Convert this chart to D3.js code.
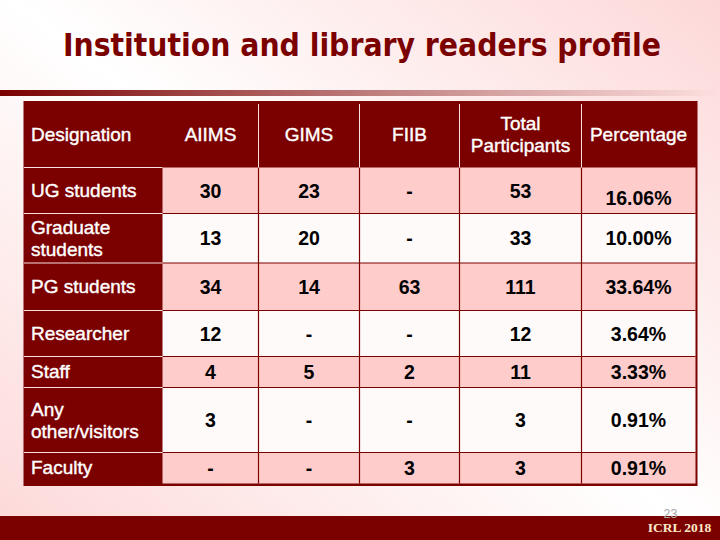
<!DOCTYPE html>
<html>
<head>
<meta charset="utf-8">
<script src="https://cdn.jsdelivr.net/npm/d3@7"></script>
<style>
html, body { margin: 0; padding: 0; background: #fff; }
svg { display: block; }
text { font-family: "Liberation Sans", Arial, sans-serif; }
.soft { font-size: 19px; stroke: #fff; stroke-width: 0.4px; }
</style>
</head>
<body>
<div id="chart"></div>
<script>
let titleText = "Institution and library readers profile";
let columns = ["AIIMS", "GIMS", "FIIB", "Total Participants", "Percentage"];
let designations = ["UG students", "Graduate students", "PG students", "Researcher", "Staff", "Any other/visitors", "Faculty"];
let aiims = [30, 13, 34, 12, 4, 3, null];
let gims = [23, 20, 14, null, 5, null, null];
let fiib = [null, null, 63, null, 2, null, 3];
let totals = [53, 33, 111, 12, 11, 3, 3];
let percents = [16.06, 10.00, 33.64, 3.64, 3.33, 0.91, 0.91];

let w = 720, h = 540;
let dark = "#7b0000";
let pink = "#ffcccc";

// table grid
let colEdges = [162.5, 258.5, 359.5, 459.5, 581.5, 695.5];
let rowEdges = [167.5, 213.5, 263, 310.5, 356.5, 387.5, 452.5, 483.5];
let tableLeft = 23.5, tableTop = 101, tableRight = 697.5, tableBottom = 486;

let svg = d3.select("#chart").append("svg")
    .attr("width", w)
    .attr("height", h);

let defs = svg.append("defs");
let bg = defs.append("linearGradient")
    .attr("id", "bg")
    .attr("gradientUnits", "userSpaceOnUse")
    .attr("x1", 640).attr("y1", -90)
    .attr("x2", 80).attr("y2", 630);
bg.append("stop").attr("offset", 0).attr("stop-color", "#fdd6d6");
bg.append("stop").attr("offset", 0.5).attr("stop-color", "#ffffff");
bg.append("stop").attr("offset", 1).attr("stop-color", "#fdd6d6");

let band = defs.append("linearGradient").attr("id", "band");
band.append("stop").attr("offset", 0).attr("stop-color", dark);
band.append("stop").attr("offset", 1).attr("stop-color", dark).attr("stop-opacity", 0);

svg.append("rect").attr("width", w).attr("height", h).attr("fill", "url(#bg)");

svg.append("text")
    .text(titleText)
    .attr("x", 362)
    .attr("y", 56)
    .attr("text-anchor", "middle")
    .attr("fill", dark)
    .style("font-family", "'DejaVu Sans Condensed', 'DejaVu Sans'")
    .style("font-weight", "bold")
    .style("font-size", "31.5px");

svg.append("rect")
    .attr("x", 0).attr("y", 90)
    .attr("width", w).attr("height", 6)
    .attr("fill", "url(#band)");

// table body
svg.append("rect")
    .attr("x", tableLeft).attr("y", tableTop)
    .attr("width", tableRight - tableLeft).attr("height", tableBottom - tableTop)
    .attr("fill", dark);

let colStart = d3.scaleOrdinal().domain(columns).range(colEdges.slice(0, -1));
let colEnd = d3.scaleOrdinal().domain(columns).range(colEdges.slice(1));
let rowStart = d3.scaleOrdinal().domain(designations).range(rowEdges.slice(0, -1));
let rowEnd = d3.scaleOrdinal().domain(designations).range(rowEdges.slice(1));
let colMid = d => (colStart(d) + colEnd(d)) / 2;
let rowMid = d => (rowStart(d) + rowEnd(d)) / 2;

// striped cells
svg.selectAll(".stripe")
    .data(designations)
    .enter()
    .append("rect")
    .attr("class", "stripe")
    .attr("x", colEdges[0])
    .attr("y", d => rowStart(d))
    .attr("width", colEdges[5] - colEdges[0])
    .attr("height", d => rowEnd(d) - rowStart(d))
    .attr("fill", (d, i) => i % 2 == 0 ? pink : "#fffafa");

// grid lines
svg.selectAll(".hline")
    .data(rowEdges.slice(1, -1))
    .enter()
    .append("line")
    .attr("x1", colEdges[0]).attr("x2", colEdges[5])
    .attr("y1", d => d).attr("y2", d => d)
    .attr("stroke", dark)
    .attr("stroke-width", 1.2);
svg.selectAll(".vline")
    .data(colEdges.slice(1, -1))
    .enter()
    .append("line")
    .attr("x1", d => d).attr("x2", d => d)
    .attr("y1", rowEdges[0]).attr("y2", rowEdges[7])
    .attr("stroke", dark)
    .attr("stroke-width", 1.2);

// pale separators in the header and first column
svg.selectAll(".hsep")
    .data(rowEdges.slice(0, -1))
    .enter()
    .append("line")
    .attr("x1", tableLeft + 0.5).attr("x2", colEdges[0])
    .attr("y1", d => d).attr("y2", d => d)
    .attr("stroke", "#f6e0e0");
svg.selectAll(".vsep")
    .data(colEdges.slice(1, -1))
    .enter()
    .append("line")
    .attr("x1", d => d).attr("x2", d => d)
    .attr("y1", 104).attr("y2", rowEdges[0])
    .attr("stroke", "#f6e0e0");

// header text
let header = svg.selectAll(".head")
    .data(columns)
    .enter()
    .append("text")
    .attr("class", "head soft")
    .attr("text-anchor", "middle")
    .attr("fill", "#fff");
header.selectAll("tspan")
    .data(d => d.split(" ").map((t, i, a) => ({ t: t, col: d, i: i, n: a.length })))
    .enter()
    .append("tspan")
    .text(d => d.t)
    .attr("x", d => colMid(d.col))
    .attr("y", d => d.n == 1 ? 140.5 : 129.5 + d.i * 22);

svg.append("text")
    .text("Designation")
    .attr("class", "soft")
    .attr("x", 31).attr("y", 140.5)
    .attr("fill", "#fff");

// first column, labels too long for one line wrap at the space
let wrapped = ["Graduate students", "Any other/visitors"];
let labels = svg.selectAll(".label")
    .data(designations)
    .enter()
    .append("text")
    .attr("class", "label soft")
    .attr("fill", "#fff");
labels.selectAll("tspan")
    .data(d => {
        let parts = wrapped.includes(d) ? d.split(" ") : [d];
        return parts.map((t, i) => ({ t: t, row: d, i: i, n: parts.length }));
    })
    .enter()
    .append("tspan")
    .text(d => d.t)
    .attr("x", 31)
    .attr("y", d => d.n == 1 ? rowMid(d.row) + 6.4 : rowMid(d.row) - 4.5 + d.i * 22);

// values
let fmtCount = v => v == null ? "-" : String(v);
let fmtPct = v => d3.format(".2f")(v) + "%";
let series = [aiims, gims, fiib, totals, percents];
let cells = [];
columns.forEach((c, j) => {
    designations.forEach((r, i) => {
        cells.push({ col: c, row: r, text: j == 4 ? fmtPct(series[j][i]) : fmtCount(series[j][i]) });
    });
});
svg.selectAll(".cell")
    .data(cells)
    .enter()
    .append("text")
    .attr("class", "cell")
    .text(d => d.text)
    .attr("x", d => colMid(d.col))
    .attr("y", d => rowMid(d.row) + 7 + (d.text == "16.06%" ? 7.5 : 0))
    .attr("text-anchor", "middle")
    .attr("fill", "#000")
    .style("font-weight", "bold")
    .style("font-size", "19.5px");

// footer
svg.append("rect")
    .attr("x", 0).attr("y", 516)
    .attr("width", w).attr("height", 24)
    .attr("fill", dark);
svg.append("text")
    .text("23")
    .attr("x", 670.5).attr("y", 517.5)
    .attr("text-anchor", "middle")
    .attr("fill", "#a8a8a8")
    .style("font-size", "12.5px");
svg.append("text")
    .text("ICRL 2018")
    .attr("x", 679.5).attr("y", 532)
    .attr("text-anchor", "middle")
    .attr("fill", "#fbe8c8")
    .style("font-family", "'Liberation Serif'")
    .style("font-weight", "bold")
    .style("font-size", "13.5px");
</script>
</body>
</html>
